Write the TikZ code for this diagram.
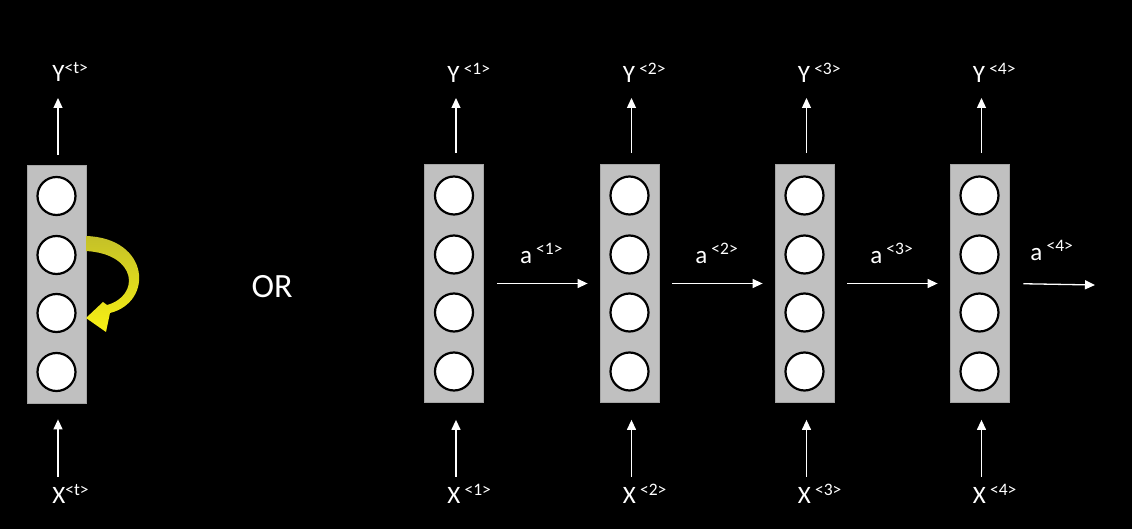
\documentclass[tikz,border=0pt]{standalone}
\usepackage{fontspec}
\setmainfont{Carlito}
\usetikzlibrary{arrows.meta,positioning,calc}
\definecolor{cellgray}{RGB}{192,192,192}
\definecolor{loopyellow}{RGB}{248,240,20}
\definecolor{loopolive}{RGB}{196,192,40}

\begin{document}
\begin{tikzpicture}[x=0.5pt,y=-0.5pt,
	arrow/.style = {white, line width=0.65pt, -{Triangle[width=4.5pt,length=5pt]}}]
		\tikzset{cell/.style={draw=gray!70, fill=cellgray, minimum width=29.5pt, minimum height=119pt, inner sep=0pt}}
		\tikzset{unit/.style={circle, draw=black, line width=1.1pt, fill=white, minimum size=19pt, inner sep=0pt}}
		\tikzset{lbl/.style={text=white, font=\fontsize{12.5}{14}\selectfont, inner sep=0pt, anchor=base west}}

		\fill[black] (0,0) rectangle (1132,529);
		\useasboundingbox (0,0) rectangle (1132,529);

		% folded cell
		\node[cell] (cellt) at (56.5,284) {};
		\foreach \j/\dy in {1/-88,2/-29,3/29,4/88}
			\node[unit] (cellt-\j) at ($(cellt)+(0,\dy)$) {};
		\node[lbl] (yt) at (52,82) {Y\textsuperscript{<t>}};
		\node[lbl] (xt) at (52,504) {X\textsuperscript{<t>}};
		\coordinate (ytend) at (58,98);
		\coordinate (xtstart) at (58,477);
		\draw [arrow, shorten <=5pt] ($(cellt.north)+(1.5,0)$) -- (ytend);
		\draw [arrow, shorten >=8pt] (xtstart) -- ($(cellt.south)+(1.5,0)$);

		% recurrent loop
		\shade[top color=loopolive, bottom color=loopyellow]
			(86,236) .. controls (150,238) and (154,302) .. (110,313)
			-- (106,332) -- (86,318) -- (103,302) -- (107,305)
			.. controls (140,296) and (138,254) .. (86,251) -- cycle;

		\node[text=white, font=\fontsize{17}{19}\selectfont] (or) at (272,287) {OR};

		% unrolled cells
		\foreach \i/\x in {1/454,2/629.5,3/804.5,4/979.5}{
			\node[cell] (cell\i) at (\x,283.5) {};
			\foreach \j/\dy in {1/-88,2/-29,3/29,4/88}
				\node[unit] (cell\i-\j) at ($(cell\i)+(0,\dy)$) {};
			\node[lbl] (y\i) at (\x-7,83) {Y\,\textsuperscript{<\i>}};
			\node[lbl] (x\i) at (\x-7,504) {X\,\textsuperscript{<\i>}};
			\coordinate (yend\i) at (\x+2,98);
			\coordinate (xstart\i) at (\x+2,477);
			\draw [arrow, shorten <=5.5pt] ($(cell\i.north)+(2,0)$) -- (yend\i);
			\draw [arrow, shorten >=8.5pt] (xstart\i) -- ($(cell\i.south)+(2,0)$);
		}

		\coordinate (aend) at (1095,285);
		\foreach \i/\j in {1/2,2/3,3/4}
			\draw [arrow, shorten <=6.5pt, shorten >=6pt] (cell\i.east) -- node[lbl, midway, anchor=base, yshift=10pt] (a\i) {a\,\textsuperscript{<\i>}} (cell\j.west);
		\draw [arrow, shorten <=7pt] (cell4.east) -- node[lbl, midway, anchor=base, yshift=12pt] (a4) {a\,\textsuperscript{<4>}} (aend);

	\end{tikzpicture}
\end{document}
